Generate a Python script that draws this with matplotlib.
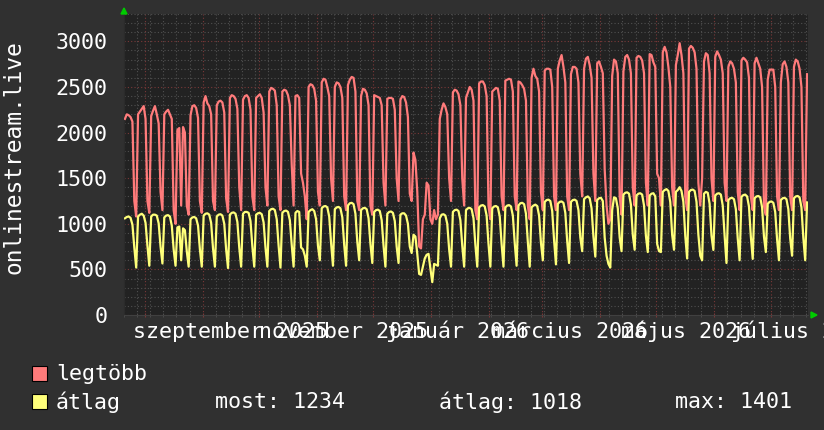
import numpy as np
import matplotlib
matplotlib.use('Agg')
import matplotlib.pyplot as plt
import matplotlib.dates as mdates
from matplotlib.patches import Rectangle, Polygon

# ── data: one row per week, Monday..Sunday, first Monday 2025-07-21 ──
start = '2025-07-21'

legtobb_weeks = [
    [2150, 2200, 2190, 2170, 2120, 1250, 1080],
    [2200, 2230, 2260, 2290, 2150, 1250, 1120],
    [2180, 2240, 2290, 2200, 2100, 1350, 1150],
    [2200, 2230, 2250, 2200, 2150, 1150, 1000],
    [2030, 2050, 1200, 2060, 2000, 1200, 1100],
    [2190, 2290, 2300, 2270, 2160, 1250, 1120],
    [2330, 2400, 2320, 2290, 2200, 1250, 1150],
    [2300, 2340, 2350, 2330, 2220, 1280, 1130],
    [2380, 2410, 2400, 2370, 2260, 1400, 1150],
    [2360, 2400, 2410, 2380, 2250, 1300, 1150],
    [2380, 2400, 2420, 2380, 2220, 1400, 1200],
    [2450, 2490, 2480, 2460, 2300, 1300, 1150],
    [2450, 2470, 2460, 2410, 2300, 1650, 1200],
    [2400, 2410, 2380, 1550, 1450, 1300, 1050],
    [2500, 2530, 2520, 2480, 2350, 1350, 1200],
    [2550, 2590, 2580, 2500, 2400, 1500, 1250],
    [2500, 2550, 2540, 2500, 2380, 1300, 1150],
    [2520, 2580, 2610, 2600, 2450, 1250, 1150],
    [2400, 2480, 2470, 2430, 2300, 1200, 1100],
    [2410, 2400, 2390, 2380, 2300, 1450, 1200],
    [2370, 2380, 2380, 2370, 2250, 1500, 1250],
    [2360, 2400, 2390, 2330, 2170, 1330, 1250],
    [1780, 1700, 1350, 750, 730, 1050, 1100],
    [1450, 1420, 1050, 1000, 1150, 1050, 1100],
    [2150, 2250, 2320, 2280, 2200, 1500, 1250],
    [2440, 2470, 2460, 2420, 2300, 1500, 1200],
    [2380, 2440, 2500, 2470, 2350, 1150, 1050],
    [2540, 2560, 2560, 2520, 2400, 1200, 1050],
    [2450, 2470, 2490, 2480, 2350, 1300, 1150],
    [2570, 2580, 2590, 2580, 2450, 1300, 1150],
    [2560, 2550, 2520, 2480, 2350, 1200, 1050],
    [2600, 2700, 2620, 2590, 2450, 1350, 1150],
    [2680, 2700, 2700, 2690, 2500, 1300, 1150],
    [2700, 2790, 2850, 2720, 2550, 1300, 1150],
    [2640, 2720, 2720, 2700, 2550, 1550, 1300],
    [2700, 2810, 2830, 2740, 2600, 1550, 1250],
    [2760, 2780, 2720, 2650, 1600, 1200, 1000],
    [1050, 2620, 2800, 2780, 2650, 1300, 1100],
    [2670, 2830, 2850, 2800, 2650, 1400, 1200],
    [2820, 2840, 2830, 2790, 2650, 1450, 1200],
    [2860, 2850, 2770, 2720, 1550, 1500, 1200],
    [2880, 2940, 2880, 2720, 2500, 1400, 1200],
    [2740, 2850, 2980, 2850, 2650, 1300, 1150],
    [2920, 2950, 2930, 2880, 2700, 1450, 1200],
    [1500, 2780, 2870, 2850, 2650, 1500, 1250],
    [2830, 2890, 2850, 2800, 2650, 1450, 1250],
    [2720, 2780, 2760, 2700, 2550, 1350, 1150],
    [2790, 2820, 2800, 2770, 2600, 1300, 1150],
    [2760, 2820, 2760, 2700, 2500, 1200, 1100],
    [2580, 2690, 2690, 2690, 2500, 1300, 1150],
    [2550, 2750, 2780, 2720, 2550, 1300, 1150],
    [2720, 2800, 2780, 2700, 2500, 1250, 1150],
    [2640],
]

atlag_weeks = [
    [1060, 1075, 1080, 1065, 990, 740, 520],
    [1080, 1100, 1110, 1090, 1010, 760, 540],
    [1080, 1100, 1100, 1090, 1005, 750, 565],
    [1070, 1090, 1095, 1080, 980, 720, 540],
    [960, 970, 600, 950, 930, 700, 530],
    [1050, 1070, 1075, 1060, 980, 720, 530],
    [1090, 1110, 1115, 1100, 1010, 730, 530],
    [1080, 1100, 1105, 1090, 1000, 720, 515],
    [1100, 1120, 1125, 1110, 1020, 740, 530],
    [1110, 1130, 1130, 1120, 1030, 750, 530],
    [1100, 1115, 1120, 1105, 1015, 740, 530],
    [1140, 1160, 1165, 1150, 1050, 760, 520],
    [1120, 1140, 1145, 1130, 1040, 770, 530],
    [1120, 1140, 1130, 740, 720, 650, 530],
    [1130, 1150, 1160, 1140, 1050, 760, 600],
    [1170, 1190, 1195, 1180, 1080, 790, 540],
    [1160, 1180, 1185, 1170, 1070, 770, 540],
    [1200, 1225, 1230, 1215, 1110, 800, 600],
    [1150, 1170, 1175, 1160, 1060, 780, 570],
    [1130, 1150, 1155, 1140, 1040, 760, 530],
    [1110, 1130, 1135, 1120, 1030, 750, 570],
    [1100, 1115, 1115, 1090, 1000, 750, 680],
    [880, 860, 670, 450, 440, 530, 620],
    [660, 670, 510, 360, 560, 550, 540],
    [1060, 1100, 1105, 1090, 1000, 720, 530],
    [1130, 1150, 1155, 1140, 1040, 760, 530],
    [1150, 1170, 1175, 1160, 1060, 770, 530],
    [1180, 1200, 1205, 1190, 1090, 780, 530],
    [1170, 1190, 1195, 1180, 1080, 780, 530],
    [1180, 1200, 1205, 1190, 1090, 790, 540],
    [1200, 1225, 1230, 1215, 1110, 800, 530],
    [1180, 1200, 1210, 1195, 1090, 790, 600],
    [1240, 1260, 1265, 1250, 1140, 820, 555],
    [1220, 1240, 1245, 1230, 1120, 810, 570],
    [1240, 1260, 1265, 1250, 1150, 850, 700],
    [1270, 1290, 1300, 1280, 1170, 860, 640],
    [1260, 1280, 1285, 1250, 850, 650, 560],
    [520, 1150, 1290, 1280, 1170, 850, 700],
    [1320, 1340, 1345, 1330, 1210, 880, 715],
    [1310, 1330, 1335, 1320, 1200, 870, 690],
    [1310, 1330, 1335, 1300, 780, 700, 690],
    [1350, 1370, 1380, 1360, 1240, 880, 715],
    [1350, 1370, 1401, 1360, 1240, 870, 620],
    [1350, 1370, 1375, 1360, 1240, 880, 650],
    [600, 1330, 1350, 1340, 1220, 870, 713],
    [1310, 1330, 1335, 1320, 1200, 870, 570],
    [1260, 1280, 1285, 1270, 1160, 840, 600],
    [1295, 1315, 1320, 1300, 1190, 860, 615],
    [1280, 1300, 1305, 1290, 1180, 860, 690],
    [1220, 1240, 1245, 1230, 1130, 830, 600],
    [1260, 1280, 1285, 1270, 1160, 840, 650],
    [1280, 1300, 1305, 1290, 1180, 850, 600],
    [1234],
]

month_labels = ['szeptember 2025', 'november 2025', 'január 2026',
                'március 2026', 'május 2026', 'július 2026']
label_dates = ['2025-09-16', '2025-11-15', '2026-01-15',
               '2026-03-16', '2026-05-17', '2026-07-18']
yticks = [0, 500, 1000, 1500, 2000, 2500, 3000]
stats = ['most: 1234', 'átlag: 1018', 'max: 1401']

legtobb = [v for w in legtobb_weeks for v in w]
atlag = [v for w in atlag_weeks for v in w]

# ── style ──
BG = '#303030'
PLOT_BG = '#222222'
RED = '#ff7b7b'
YEL = '#ffff7a'
GRID_MIN = '#505050'
GRID_MAJ = '#7a3838'
ARROW = '#00cc00'
FONT = 'DejaVu Sans Mono'
FS = 15.6

W, H = 824, 430
fig = plt.figure(figsize=(W / 100, H / 100), dpi=100, facecolor=BG)

def fx(px):
    return px / W

def fy(py):
    return 1 - py / H

left, right, top, bottom = 124, 808, 14, 315
ax = fig.add_axes([fx(left), fy(bottom), fx(right - left), (bottom - top) / H])
ax.set_facecolor(PLOT_BG)

t0 = np.datetime64(start)
days = t0 + np.arange(len(legtobb))
x = mdates.date2num(days) + 0.5

ax.plot(x, legtobb, color=RED, lw=1.6, zorder=3)
ax.plot(x, atlag, color=YEL, lw=1.6, zorder=4)

ax.set_xlim(mdates.date2num(t0), mdates.date2num(t0 + 365))
ax.set_ylim(0, 3300)

# grid
ax.xaxis.set_major_locator(mdates.MonthLocator())
ax.xaxis.set_minor_locator(mdates.WeekdayLocator(byweekday=mdates.MO))
ax.xaxis.set_major_formatter(plt.NullFormatter())
ax.set_yticks(yticks)
ax.set_yticks(np.arange(0, 3301, 100), minor=True)
ax.set_yticklabels([str(v) for v in yticks], fontfamily=FONT, fontsize=FS, color='white')

ax.grid(which='minor', color=GRID_MIN, ls=(0, (1, 2)), lw=0.8, zorder=1)
ax.grid(which='major', color=GRID_MAJ, ls=(0, (1, 2)), lw=0.8, zorder=2)
ax.tick_params(axis='y', which='both', length=0, pad=12)
ax.tick_params(axis='x', which='major', length=3, direction='inout', color=GRID_MAJ)
ax.tick_params(axis='x', which='minor', length=3, direction='inout', color=GRID_MIN)
for s in ['top', 'right']:
    ax.spines[s].set_visible(False)
ax.spines['left'].set_color('#2b2b2b')
ax.spines['bottom'].set_color('#404040')

for lab, d in zip(month_labels, label_dates):
    ax.text(mdates.date2num(np.datetime64(d)), -23 / (bottom - top), lab,
            transform=ax.get_xaxis_transform(), ha='center', va='baseline',
            fontfamily=FONT, fontsize=FS, color='white', clip_on=False)

# arrows
fig.patches.append(Polygon([[fx(121), fy(14)], [fx(127), fy(14)], [fx(124), fy(8)]],
                           closed=True, color=ARROW, transform=fig.transFigure))
fig.patches.append(Polygon([[fx(811), fy(312)], [fx(811), fy(318)], [fx(817), fy(315)]],
                           closed=True, color=ARROW, transform=fig.transFigure))

# y label
fig.text(fx(14), fy(157), 'onlinestream.live', rotation=90, ha='center', va='center',
         fontfamily=FONT, fontsize=16.5, color='white')

# legend
for py, col, name in [(374, RED, 'legtöbb'), (402, YEL, 'átlag')]:
    fig.patches.append(Rectangle((fx(32), fy(py + 7)), fx(15), 15 / H, facecolor=col,
                                 edgecolor='black', lw=0.8, transform=fig.transFigure))
    fig.text(fx(56), fy(py), name, ha='left', va='center',
             fontfamily=FONT, fontsize=FS, color='white')
for px, s in zip([215, 439, 675], stats):
    fig.text(fx(px), fy(402), s, ha='left', va='center',
             fontfamily=FONT, fontsize=FS, color='white')

fig.savefig('out.png', dpi=100, facecolor=BG)
